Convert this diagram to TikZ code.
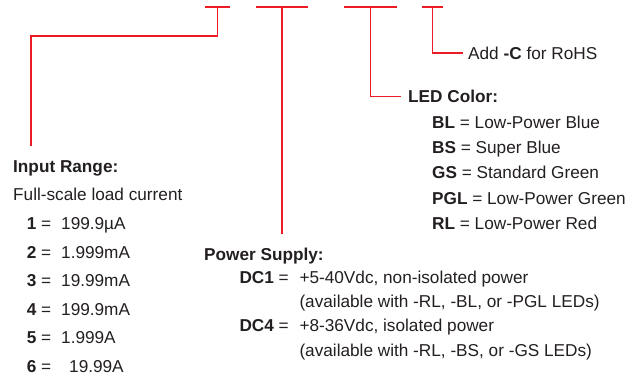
\documentclass[tikz,border=0pt]{standalone}
\usepackage{fontspec}
\setmainfont{Liberation Sans}
\usepackage{xcolor}
\usetikzlibrary{positioning, calc}
\definecolor{leadred}{RGB}{237,28,36}
\definecolor{inkgray}{RGB}{35,31,32}

\begin{document}
\begin{tikzpicture}[
    x=1pt, y=-1pt,
    every node/.style={font=\fontsize{17.2}{20}\selectfont, text=inkgray, inner sep=0pt, anchor=base west},
    heading/.style={font=\fontsize{17.2}{20}\selectfont\bfseries},
    bracket/.style={leadred, line width=1.6pt},
    leader/.style={leadred, line width=1.4pt}
]
\useasboundingbox (0,0) rectangle (628,377);

% ── brackets under the part number ──
\foreach \name/\l/\r in {rng/205/230, pwr/256/308, led/344/397, rohs/422/443} {
    \coordinate (\name L) at (\l, 7);
    \coordinate (\name R) at (\r, 7);
    \coordinate (\name T) at ($(\name L)!0.5!(\name R)$);
    \draw[bracket] (\name L) -- (\name R);
}

% ── RoHS option ──
\node (rohs) at (468, 59.3) {Add \textbf{-C} for RoHS};

% ── LED colour ──
\node[heading] (ledhead) at (408, 102.7) {LED Color:};
\foreach \code/\desc [count=\i] in {BL/Low-Power Blue, BS/Super Blue, GS/Standard Green, PGL/Low-Power Green, RL/Low-Power Red}
    \node (led\i) at (432, {128.3 + (\i-1)*25.25}) {\textbf{\code} = \desc};

% ── Input range ──
\node[heading] (rnghead) at (13, 172.7) {Input Range:};
\node (rngsub) at (13, 200.7) {Full-scale load current};
\foreach \n/\val/\vx in {1/199.9µA/61, 2/1.999mA/61, 3/19.99mA/61, 4/199.9mA/61, 5/1.999A/61, 6/19.99A/69} {
    \node (rngkey\n) at (26.7, {229.5 + (\n-1)*28.6}) {\textbf{\n} =};
    \node (rngval\n) at (\vx, {229.5 + (\n-1)*28.6}) {\val};
}

% ── Power supply ──
\node[heading] (pwrhead) at (204, 260.7) {Power Supply:};
\node (dc1key) at (239.3, 283.3) {\textbf{DC1} =};
\node (dc1val) at (299.3, 283.3) {+5-40Vdc, non-isolated power};
\node (dc1note) at (299.3, 307.5) {(available with -RL, -BL, or -PGL LEDs)};
\node (dc4key) at (239.3, 331.7) {\textbf{DC4} =};
\node (dc4val) at (299.3, 331.7) {+8-36Vdc, isolated power};
\node (dc4note) at (299.3, 356) {(available with -RL, -BS, or -GS LEDs)};

% ── leaders ──
\coordinate (rngE) at (31, 146);
\coordinate (pwrE) at (282, 234);
\draw[leader] (rngT) -- ++(0, 29) -| (rngE);
\draw[leader] (pwrT) -- (pwrE);
\draw[leader, shorten >=7pt] (ledT) |- (ledhead.west);
\draw[leader, shorten >=5pt] (rohsT) |- (rohs.west);

\end{tikzpicture}
\end{document}
